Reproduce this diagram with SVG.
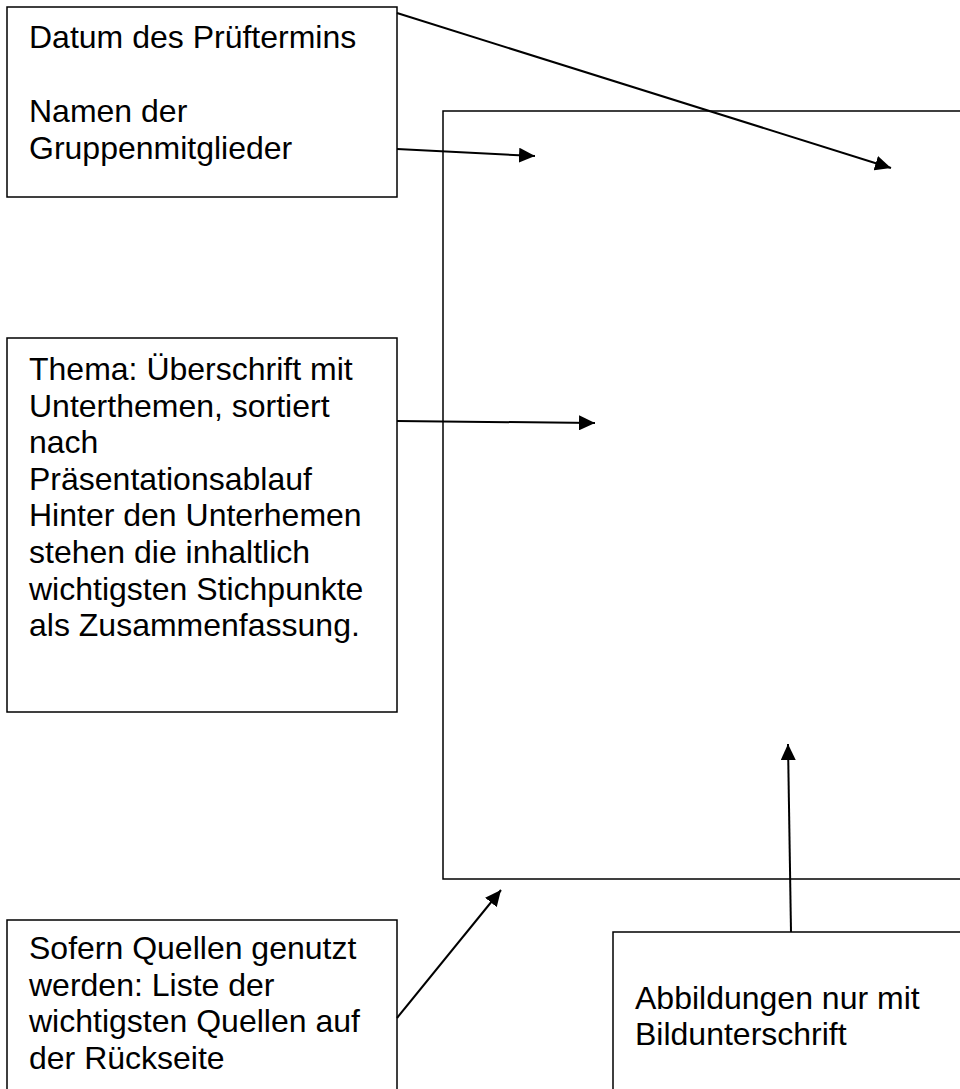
<svg xmlns="http://www.w3.org/2000/svg" width="960" height="1089" viewBox="0 0 960 1089">
<style>
.box{fill:#fff;stroke:#000;stroke-width:1.5}
.frame{fill:none;stroke:#000;stroke-width:1.5}
.t{font-family:"Liberation Sans",Arial,sans-serif;font-size:32px;fill:#000}
.c{fill:none;stroke:#000;stroke-width:2;marker-end:url(#ah)}
</style>
<defs>
<marker id="ah" markerUnits="userSpaceOnUse" markerWidth="16" markerHeight="15" refX="16" refY="7.5" orient="auto">
<path d="M0,0 L16,7.5 L0,15 z" fill="#000"/>
</marker>
</defs>
<rect width="960" height="1089" fill="#fff"/>
<g id="page">
<rect class="frame" x="443" y="111" width="540" height="768"/>
</g>
<g id="datum">
<rect class="box" x="7" y="7" width="390" height="190"/>
<text class="t" x="29" y="48">Datum des Prüftermins</text>
<text class="t" x="29" y="122">Namen der</text>
<text class="t" x="29" y="158.5">Gruppenmitglieder</text>
</g>
<g id="thema">
<rect class="box" x="7" y="338" width="390" height="374"/>
<text class="t" x="29" y="380">Thema: Überschrift mit</text>
<text class="t" x="29" y="416.6">Unterthemen, sortiert</text>
<text class="t" x="29" y="453.2">nach</text>
<text class="t" x="29" y="489.8">Präsentationsablauf</text>
<text class="t" x="29" y="526.4">Hinter den Unterhemen</text>
<text class="t" x="29" y="563">stehen die inhaltlich</text>
<text class="t" x="29" y="599.6">wichtigsten Stichpunkte</text>
<text class="t" x="29" y="636.2">als Zusammenfassung.</text>
</g>
<g id="quellen">
<rect class="box" x="7" y="920" width="390" height="200"/>
<text class="t" x="29" y="959">Sofern Quellen genutzt</text>
<text class="t" x="29" y="995.6">werden: Liste der</text>
<text class="t" x="29" y="1032.2">wichtigsten Quellen auf</text>
<text class="t" x="29" y="1068.8">der Rückseite</text>
</g>
<g id="abbildungen">
<rect class="box" x="613" y="932" width="400" height="200"/>
<text class="t" x="635" y="1009">Abbildungen nur mit</text>
<text class="t" x="635" y="1045">Bildunterschrift</text>
</g>
<g id="connectors">
<line class="c" x1="397" y1="13" x2="891" y2="168"/>
<line class="c" x1="397" y1="149" x2="535" y2="156"/>
<line class="c" x1="397" y1="421" x2="595" y2="423"/>
<line class="c" x1="397" y1="1018" x2="501" y2="890"/>
<line class="c" x1="791" y1="932" x2="788" y2="744"/>
</g>
</svg>
